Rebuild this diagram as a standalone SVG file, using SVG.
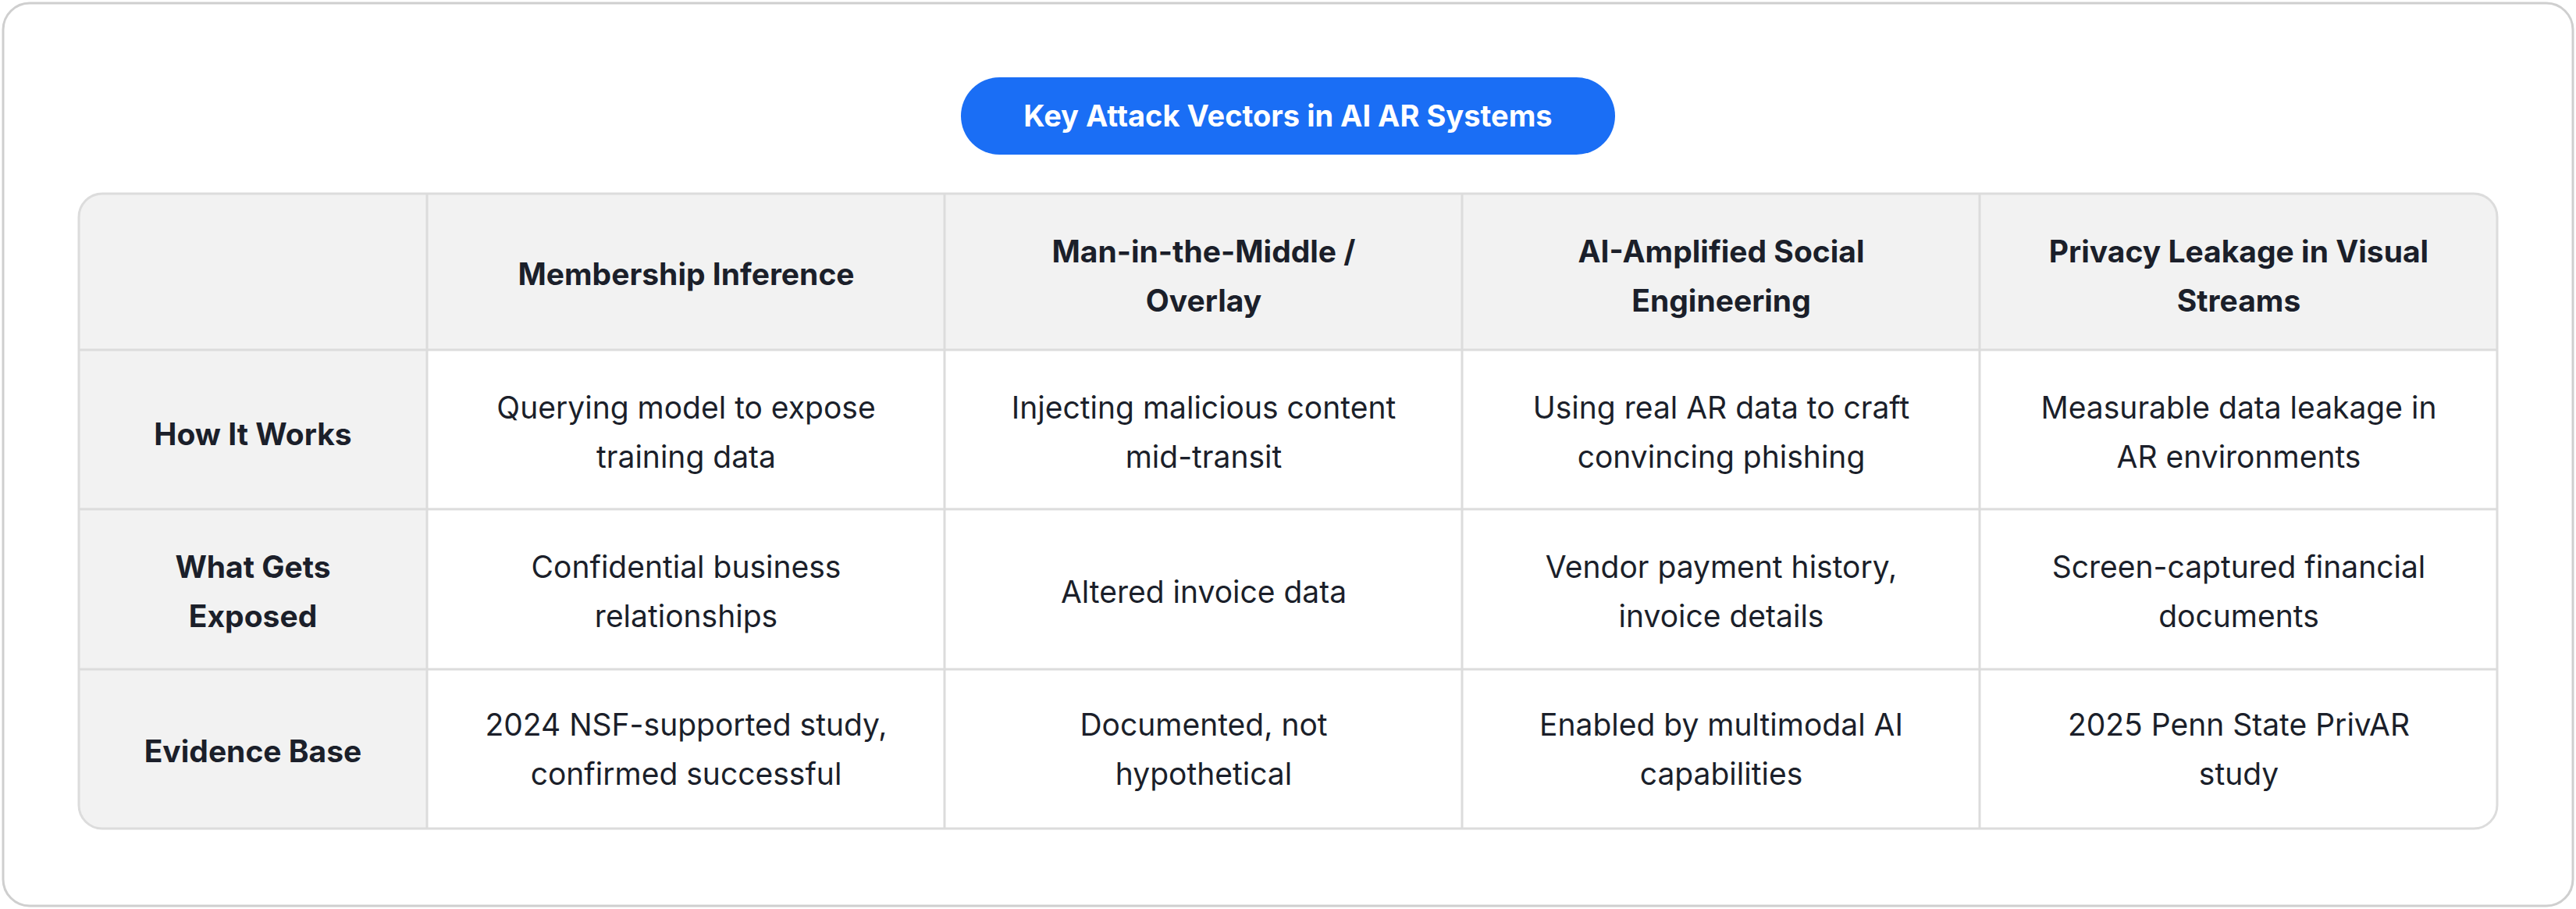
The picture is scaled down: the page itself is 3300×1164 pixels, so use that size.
<svg xmlns="http://www.w3.org/2000/svg" width="3300" height="1164" viewBox="0 0 3300 1164">
<style>
.t{font-family:Inter,"Liberation Sans",sans-serif;font-size:39px;fill:#1b1f2a;text-anchor:middle}
.b{font-weight:700}
.ln{stroke:#dcdcdc;stroke-width:3;fill:none}
</style>
<defs><clipPath id="c"><rect x="101" y="248" width="3098" height="813" rx="30"/></clipPath></defs>
<rect x="4" y="4" width="3292" height="1156" rx="34" fill="#fff" stroke="#cfcfcf" stroke-width="3"/>
<g id="title">
<rect x="1231" y="99" width="838" height="99" rx="49.5" fill="#1a6ef5"/>
<text x="1650" y="162" class="t b" style="fill:#fff;font-size:38px">Key Attack Vectors in AI AR Systems</text>
</g>
<g id="table">
<g clip-path="url(#c)">
<rect x="101" y="248" width="3098" height="813" fill="#fff"/>
<rect x="101" y="248" width="3098" height="200" fill="#f2f2f2"/>
<rect x="101" y="248" width="446" height="813" fill="#f2f2f2"/>
</g>
<g class="ln">
<line x1="101" y1="448" x2="3199" y2="448"/><line x1="101" y1="652" x2="3199" y2="652"/><line x1="101" y1="857" x2="3199" y2="857"/>
<line x1="547" y1="248" x2="547" y2="1061"/><line x1="1210" y1="248" x2="1210" y2="1061"/><line x1="1873" y1="248" x2="1873" y2="1061"/><line x1="2536" y1="248" x2="2536" y2="1061"/>
<rect x="101" y="248" width="3098" height="813" rx="30"/>
</g>
</g>
<g id="header">
<text class="t b" x="879" y="365">Membership Inference</text>
<text class="t b" x="1542" y="336">Man-in-the-Middle /</text><text class="t b" x="1542" y="399">Overlay</text>
<text class="t b" x="2205" y="336">AI-Amplified Social</text><text class="t b" x="2205" y="399">Engineering</text>
<text class="t b" x="2868" y="336">Privacy Leakage in Visual</text><text class="t b" x="2868" y="399">Streams</text>
</g>
<g id="row1">
<text class="t b" x="324" y="570">How It Works</text>
<text class="t" x="879" y="536">Querying model to expose</text><text class="t" x="879" y="599">training data</text>
<text class="t" x="1542" y="536">Injecting malicious content</text><text class="t" x="1542" y="599">mid-transit</text>
<text class="t" x="2205" y="536">Using real AR data to craft</text><text class="t" x="2205" y="599">convincing phishing</text>
<text class="t" x="2868" y="536">Measurable data leakage in</text><text class="t" x="2868" y="599">AR environments</text>
</g>
<g id="row2">
<text class="t b" x="324" y="740">What Gets</text><text class="t b" x="324" y="803">Exposed</text>
<text class="t" x="879" y="740">Confidential business</text><text class="t" x="879" y="803">relationships</text>
<text class="t" x="1542" y="772">Altered invoice data</text>
<text class="t" x="2205" y="740">Vendor payment history,</text><text class="t" x="2205" y="803">invoice details</text>
<text class="t" x="2868" y="740">Screen-captured financial</text><text class="t" x="2868" y="803">documents</text>
</g>
<g id="row3">
<text class="t b" x="324" y="976">Evidence Base</text>
<text class="t" x="879" y="942">2024 NSF-supported study,</text><text class="t" x="879" y="1005">confirmed successful</text>
<text class="t" x="1542" y="942">Documented, not</text><text class="t" x="1542" y="1005">hypothetical</text>
<text class="t" x="2205" y="942">Enabled by multimodal AI</text><text class="t" x="2205" y="1005">capabilities</text>
<text class="t" x="2868" y="942">2025 Penn State PrivAR</text><text class="t" x="2868" y="1005">study</text>
</g>
</svg>
